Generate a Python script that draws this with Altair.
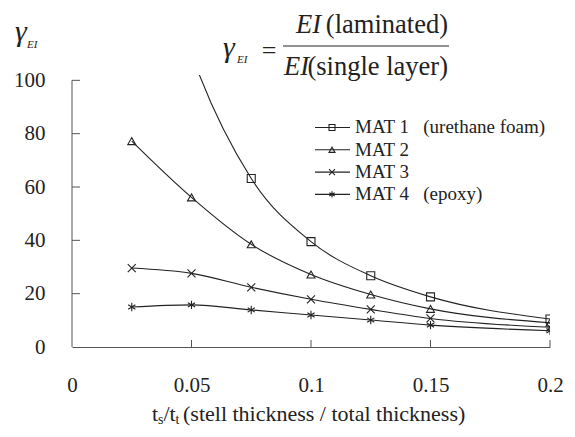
import altair as alt
import pandas as pd

# ---------------- data ----------------
x_vals = [0.025, 0.05, 0.075, 0.1, 0.125, 0.15, 0.2]
mat1 = [190.0, 110.0, 63.2, 39.5, 26.7, 18.8, 10.5]
mat2 = [77.2, 56.1, 38.5, 27.2, 19.7, 14.3, 9.1]
mat3 = [29.6, 27.6, 22.4, 17.9, 14.1, 10.7, 7.4]
mat4 = [15.0, 15.8, 13.9, 12.0, 10.1, 8.2, 6.1]
series = ["MAT 1", "MAT 2", "MAT 3", "MAT 4"]
legend_labels = ["MAT 1\u00a0\u00a0\u00a0(urethane foam)", "MAT 2", "MAT 3",
                 "MAT 4\u00a0\u00a0\u00a0(epoxy)"]
x_ticks = [0, 0.05, 0.1, 0.15, 0.2]
y_ticks = [0, 20, 40, 60, 80, 100]

rows = []
for name, vals in zip(series, [mat1, mat2, mat3, mat4]):
    for xv, yv in zip(x_vals, vals):
        rows.append({"series": name, "x": xv, "y": yv})
df = pd.DataFrame(rows)

# ---------------- style ----------------
W, H = 478, 272
FONT = "Liberation Serif, Times New Roman, DejaVu Serif, serif"
INK = "#222222"
AXIS = "#555555"
shape_range = ["square", "triangle-up",
               "M-1,-1L1,1M-1,1L1,-1",
               "M-0.9,-0.55L0.9,0.55M-0.9,0.55L0.9,-0.55M0,-1.05L0,1.05"]

xs = alt.Scale(domain=[0, 0.2], nice=False, zero=False)
ys = alt.Scale(domain=[0, 102], nice=False)

x_axis = alt.Axis(values=x_ticks, format="~g", grid=False, tickSize=0,
                  labelPadding=27, labelFont=FONT, labelFontSize=21,
                  labelColor=INK, domainColor=AXIS, labelFlush=False, title=None)
y_axis = alt.Axis(values=y_ticks, format="d", grid=False, tickSize=0,
                  domain=False, labelPadding=27, labelFont=FONT,
                  labelFontSize=21, labelColor=INK, title=None)

lines = alt.Chart(df).mark_line(interpolate="monotone", clip=True, color=INK,
                                strokeWidth=1.1).encode(
    x=alt.X("x:Q", scale=xs, axis=x_axis),
    y=alt.Y("y:Q", scale=ys, axis=y_axis),
    detail="series:N")

points = alt.Chart(df).mark_point(filled=False, clip=True, color=INK, size=64,
                                  strokeWidth=1.1, opacity=1).encode(
    x=alt.X("x:Q", scale=xs, axis=x_axis),
    y=alt.Y("y:Q", scale=ys, axis=y_axis),
    shape=alt.Shape("series:N", scale=alt.Scale(domain=series, range=shape_range),
                    legend=None))

yaxis_line = alt.Chart(pd.DataFrame({"y": [y_ticks[0]], "b": [y_ticks[-1]]})).mark_rule(
    color=AXIS, strokeWidth=1).encode(
    y=alt.Y("y:Q", scale=ys, axis=y_axis), y2="b:Q", x=alt.value(0))

yticks = alt.Chart(pd.DataFrame({"y": y_ticks[1:]})).mark_rule(color=AXIS).encode(
    y=alt.Y("y:Q", scale=ys, axis=y_axis), x=alt.value(0), x2=alt.value(8))

xticks = alt.Chart(pd.DataFrame({"x": x_ticks[1:]})).mark_rule(color=AXIS).encode(
    x=alt.X("x:Q", scale=xs, axis=x_axis), y=alt.value(H), y2=alt.value(H - 7))


def txt(s, x, y, size, italic=False, align="left"):
    return alt.Chart(pd.DataFrame({"t": [s]})).mark_text(
        font=FONT, fontSize=size, fontStyle="italic" if italic else "normal",
        align=align, baseline="alphabetic", color=INK).encode(
        x=alt.value(x), y=alt.value(y), text="t:N")


one = pd.DataFrame({"a": [0]})
annots = []

# y-axis title  gamma_EI
annots.append(txt("γ", -57, -34, 30, italic=True))
annots.append(txt("EI", -45, -27, 11, italic=True))

# formula
annots.append(txt("γ", 151, -18, 30, italic=True))
annots.append(txt("EI", 165, -12, 11, italic=True))
annots.append(txt("=", 197, -16, 26, align="center"))
annots.append(alt.Chart(one).mark_rule(color=INK, strokeWidth=1).encode(
    x=alt.value(211), x2=alt.value(377), y=alt.value(-29)))
annots.append(txt("EI", 224, -42, 26.5, italic=True))
annots.append(txt("(laminated)", 376, -42, 26.5, align="right"))
annots.append(txt("EI", 212, 0, 26.5, italic=True))
annots.append(txt("(single layer)", 376, 0, 26.5, align="right"))

# x-axis title ts/tt (...)
annots.append(txt("t", 80, 346, 22))
annots.append(txt("s", 86, 349, 14))
annots.append(txt("/t", 91.5, 346, 22))
annots.append(txt("t", 103.6, 349, 14))
annots.append(txt("(stell thickness / total thickness)", 111, 346, 22))

# legend
for i, (lab, shp) in enumerate(zip(legend_labels, shape_range)):
    ly = 52.5 + 22.3 * i
    annots.append(alt.Chart(one).mark_rule(color=INK, strokeWidth=1.1).encode(
        x=alt.value(243), x2=alt.value(278), y=alt.value(ly)))
    annots.append(alt.Chart(one).mark_point(shape=shp, filled=False, size=36,
                                            color=INK, strokeWidth=1.1, opacity=1).encode(
        x=alt.value(260), y=alt.value(ly)))
    annots.append(txt(lab, 283, ly + 5.8, 19))

chart = alt.layer(lines, points, yaxis_line, yticks, xticks, *annots).properties(
    width=W, height=H,
    autosize=alt.AutoSizeParams(type="none"),
    padding={"left": 64, "top": 67, "right": 17, "bottom": 82},
    background="white",
).configure_view(stroke=None)

chart.save("out.html", embed_options={"renderer": "svg", "actions": False})
